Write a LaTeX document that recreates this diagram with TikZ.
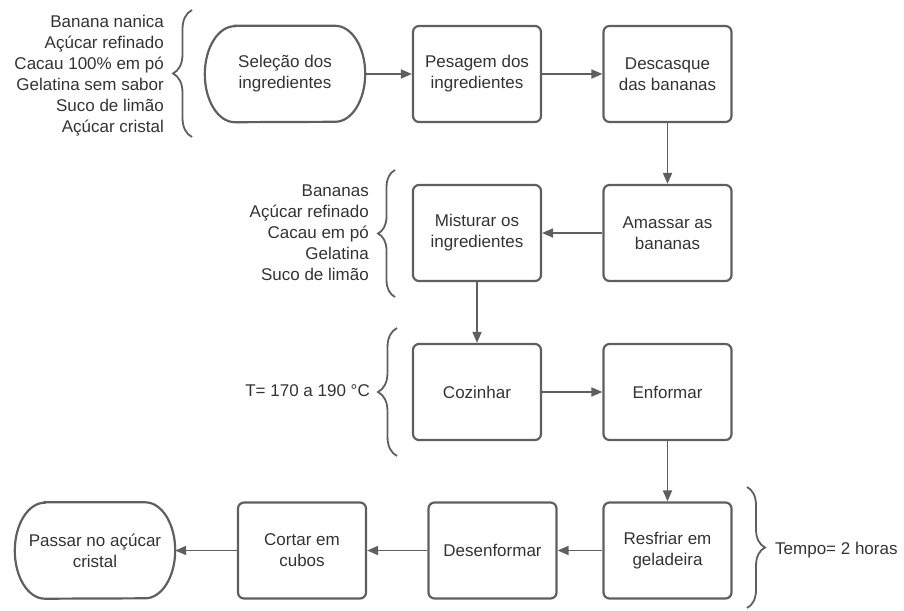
\documentclass[tikz,border=0pt]{standalone}
\usepackage{fontspec}
\setmainfont{Liberation Sans}
\usetikzlibrary{arrows.meta,decorations.pathreplacing}
\definecolor{ln}{HTML}{5F5F5F}
\definecolor{tx}{HTML}{333333}
\begin{document}
\begin{tikzpicture}[x=1pt,y=1pt,
  font=\fontsize{17}{21}\selectfont, text=tx,
  box/.style={draw=ln, line width=2.2pt, rounded corners=6pt, minimum width=128pt, minimum height=96pt, inner sep=0pt, align=center},
  term/.style={minimum width=160pt, minimum height=96pt, inner sep=0pt, align=center},
  termline/.style={draw=ln, line width=2.2pt},
  arr/.style={draw=ln, line width=1.8pt, -{Triangle[length=11pt,width=9pt]}},
  brc/.style={draw=ln, line width=1.8pt, decorate, decoration={brace, amplitude=#1, aspect=0.5}},
  lst/.style={align=right, inner sep=0pt}
]
\useasboundingbox (0,0) rectangle (904,-610);

% nodes
\node[term] (sel) at (285,-74) {Seleção dos\\ingredientes};
\node[box] (pes) at (477,-74) {Pesagem dos\\ingredientes};
\node[box] (desc) at (667.5,-74) {Descasque\\das bananas};
\node[box] (ama) at (667.5,-233) {Amassar as\\bananas};
\node[box] (mis) at (477,-233) {Misturar os\\ingredientes};
\node[box] (coz) at (477,-392) {Cozinhar};
\node[box] (enf) at (667.5,-392) {Enformar};
\node[box] (res) at (667.5,-550.5) {Resfriar em\\geladeira};
\node[box] (des) at (492.5,-550.5) {Desenformar};
\node[box] (cor) at (302,-550.5) {Cortar em\\cubos};
\node[term] (pas) at (95,-550.5) {Passar no açúcar\\cristal};

% terminator outlines
\foreach \n in {sel,pas}{
  \draw[termline] ([xshift=30pt]\n.north west) -- ([xshift=-30pt]\n.north east)
    arc[start angle=90, end angle=-90, x radius=30pt, y radius=48pt]
    -- ([xshift=30pt]\n.south west)
    arc[start angle=270, end angle=90, x radius=30pt, y radius=48pt] -- cycle;
}

% connectors
\draw[arr] (sel) -- (pes);
\draw[arr] (pes) -- (desc);
\draw[arr] (desc) -- (ama);
\draw[arr] (ama) -- (mis);
\draw[arr] (mis) -- (coz);
\draw[arr] (coz) -- (enf);
\draw[arr] (enf) -- (res);
\draw[arr] (res) -- (des);
\draw[arr] (des) -- (cor);
\draw[arr] (cor) -- (pas.east);

% braces and lists
\coordinate (b1a) at (192,-137); \coordinate (b1b) at (192,-10);
\draw[brc=19pt] (b1a) -- (b1b);
\node[lst, anchor=east] (l1) at (164,-75.5) {Banana nanica\\Açúcar refinado\\Cacau 100\% em pó\\Gelatina sem sabor\\Suco de limão\\Açúcar cristal};

\coordinate (b2a) at (395,-297); \coordinate (b2b) at (395,-170);
\draw[brc=17pt] (b2a) -- (b2b);
\node[lst, anchor=east] (l2) at (369,-232.5) {Bananas\\Açúcar refinado\\Cacau em pó\\Gelatina\\Suco de limão};

\coordinate (b3a) at (397,-456); \coordinate (b3b) at (397,-328);
\draw[brc=19pt] (b3a) -- (b3b);
\node[lst, anchor=east] (l3) at (370,-391) {T= 170 a 190 °C};

\coordinate (b4a) at (747,-487); \coordinate (b4b) at (747,-608);
\draw[brc=18pt] (b4a) -- (b4b);
\node[lst, anchor=west] (l4) at (775,-550) {Tempo= 2 horas};
\end{tikzpicture}
\end{document}
